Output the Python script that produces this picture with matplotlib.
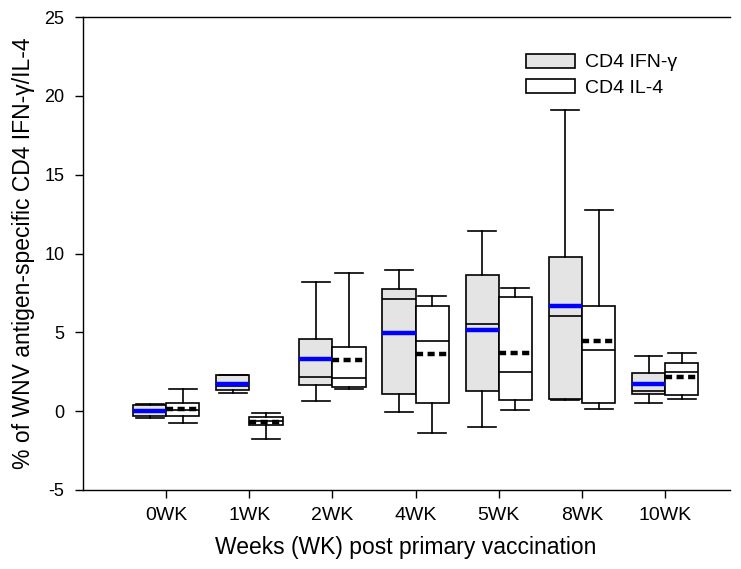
import matplotlib
matplotlib.use("Agg")
import matplotlib.pyplot as plt
from matplotlib.patches import Patch

plt.rcParams['font.family'] = ['Liberation Sans', 'DejaVu Sans']
plt.rcParams['axes.unicode_minus'] = False

weeks = ["0WK", "1WK", "2WK", "4WK", "5WK", "8WK", "10WK"]

# CD4 IFN-gamma: whisker low, Q1, median, Q3, whisker high, mean
ifn_lo   = [-0.42, 1.14, 0.65, -0.06, -1.01, 0.72, 0.53]
ifn_q1   = [-0.32, 1.33, 1.69, 1.06, 1.29, 0.74, 1.10]
ifn_med  = [-0.05, 1.60, 2.17, 7.12, 5.54, 6.04, 1.29]
ifn_q3   = [0.36, 2.28, 4.59, 7.76, 8.64, 9.77, 2.43]
ifn_hi   = [0.48, 2.30, 8.22, 8.96, 11.41, 19.07, 3.47]
ifn_mean = [0.00, 1.71, 3.30, 4.95, 5.14, 6.64, 1.73]

# CD4 IL-4
il4_lo   = [-0.75, -1.78, 1.38, -1.38, 0.06, 0.11, 0.78]
il4_q1   = [-0.30, -0.90, 1.52, 0.49, 0.70, 0.53, 1.00]
il4_med  = [0.10, -0.65, 2.11, 4.46, 2.49, 3.91, 2.49]
il4_q3   = [0.50, -0.40, 4.04, 6.66, 7.27, 6.68, 3.06]
il4_hi   = [1.40, -0.10, 8.75, 7.31, 7.82, 12.75, 3.68]
il4_mean = [0.15, -0.68, 3.25, 3.60, 3.68, 4.44, 2.18]

y_ticks = [-5, 0, 5, 10, 15, 20, 25]


def make_stats(lo, q1, med, q3, hi, mean):
    return [dict(whislo=a, q1=b, med=c, q3=d, whishi=e, mean=f, fliers=[])
            for a, b, c, d, e, f in zip(lo, q1, med, q3, hi, mean)]


fig = plt.figure(figsize=(7.41, 5.69), dpi=100)
ax = fig.add_axes([83 / 741, 79 / 569, 647 / 741, 473 / 569])

n = len(weeks)
centers = list(range(1, n + 1))
bw = 0.4
edge = dict(color="black", linewidth=1.2)

ax.bxp(make_stats(ifn_lo, ifn_q1, ifn_med, ifn_q3, ifn_hi, ifn_mean),
       positions=[c - bw / 2 for c in centers], widths=bw, capwidths=bw * 0.84,
       patch_artist=True, showmeans=True, meanline=True, showfliers=False,
       boxprops=dict(facecolor="#e4e4e4", edgecolor="black", linewidth=1.2),
       medianprops=edge, whiskerprops=edge, capprops=edge,
       meanprops=dict(color="#0000ff", linestyle="-", linewidth=3.2))

ax.bxp(make_stats(il4_lo, il4_q1, il4_med, il4_q3, il4_hi, il4_mean),
       positions=[c + bw / 2 for c in centers], widths=bw, capwidths=bw * 0.84,
       patch_artist=True, showmeans=True, meanline=True, showfliers=False,
       boxprops=dict(facecolor="white", edgecolor="black", linewidth=1.2),
       medianprops=edge, whiskerprops=edge, capprops=edge,
       meanprops=dict(color="black", linestyle=(0, (1.6, 1.0)), linewidth=3.2))

ax.set_xlim(0, 7.78)
ax.set_ylim(-5, 25)
ax.set_xticks(centers)
ax.set_xticklabels(weeks)
ax.set_yticks(y_ticks)
ax.tick_params(axis="both", direction="out", length=5.5, width=1.0)
ax.tick_params(axis="y", labelsize=13, pad=8)
ax.tick_params(axis="x", labelsize=14, pad=7)

ax.spines["right"].set_visible(False)
for s in ("left", "bottom", "top"):
    ax.spines[s].set_linewidth(1.0)

ax.set_xlabel("Weeks (WK) post primary vaccination", fontsize=16.5)
ax.set_ylabel("% of WNV antigen-specific CD4 IFN-\u03b3/IL-4", fontsize=16.5)
ax.xaxis.set_label_coords(0.498, -0.098)
ax.yaxis.set_label_coords(-0.074, 0.5)

handles = [Patch(facecolor="#e4e4e4", edgecolor="black", linewidth=1.2),
           Patch(facecolor="white", edgecolor="black", linewidth=1.2)]
ax.legend(handles, ["CD4 IFN-\u03b3", "CD4 IL-4"], loc="upper left",
          bbox_to_anchor=((527 - 83) / 647 - 0.022, 1 - (47 - 17) / 473 + 0.015),
          frameon=False, fontsize=14, handlelength=2.5, handleheight=0.75,
          handletextpad=0.5, labelspacing=0.4, borderpad=0.2)

fig.savefig("out.png", dpi=100)
